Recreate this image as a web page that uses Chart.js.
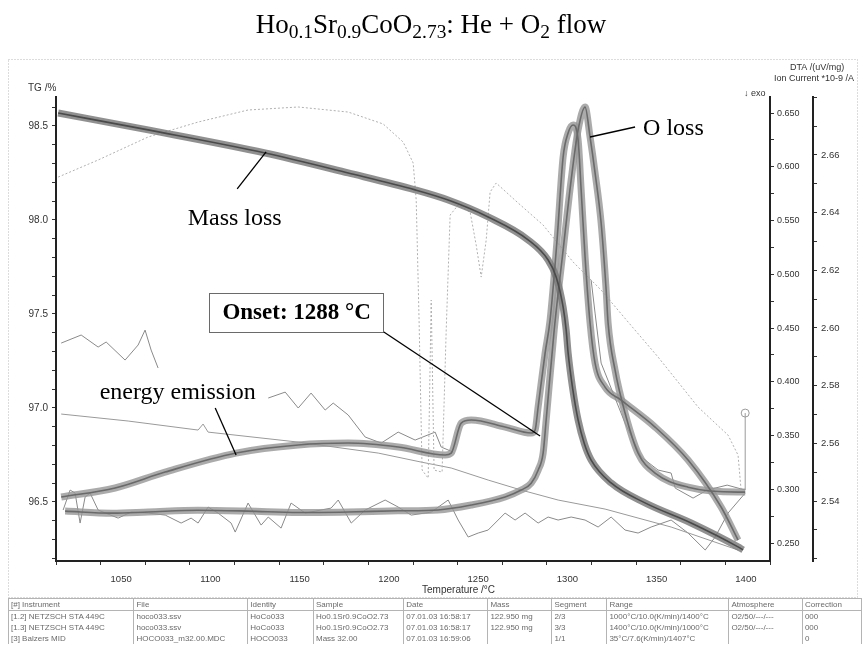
<!DOCTYPE html>
<html>
<head>
<meta charset="utf-8">
<title>TG / DTA / MS - Ho0.1Sr0.9CoO2.73</title>
<script src="https://cdn.jsdelivr.net/npm/chart.js@4.4.0/dist/chart.umd.min.js"></script>
<style>
  html, body { margin: 0; padding: 0; background: #fff; }
  #wrap { position: relative; width: 862px; height: 648px; overflow: hidden; }
  #plot { position: absolute; left: 0; top: 0; }
  #title {
    position: absolute; left: 0; top: 11px; width: 862px; text-align: center;
    font: 27px/27px "Liberation Serif", "Times New Roman", serif; color: #000;
  }
  #title sub { font-size: 0.72em; vertical-align: -0.28em; line-height: 0; }
  #runs {
    position: absolute; left: 8px; top: 598px; border-collapse: collapse; table-layout: fixed;
    font: 8px/11px "Liberation Sans", Arial, sans-serif; color: #6a6a6a;
  }
  #runs th, #runs td {
    border: 1px solid #b4b4b4; padding: 0 2px; height: 11px; white-space: nowrap;
    overflow: hidden; text-align: left; font-weight: normal;
  }
  #runs tbody td { border-top: none; border-bottom: none; }
</style>
</head>
<body>
<div id="wrap">
  <canvas id="plot" width="862" height="648"></canvas>
  <div id="title">Ho<sub>0.1</sub>Sr<sub>0.9</sub>CoO<sub>2.73</sub>: He + O<sub>2</sub> flow</div>
  <table id="runs">
    <colgroup>
      <col style="width:127px"><col style="width:115px"><col style="width:67px"><col style="width:91px">
      <col style="width:85px"><col style="width:65px"><col style="width:56px"><col style="width:123px">
      <col style="width:75px"><col style="width:60px">
    </colgroup>
    <thead>
      <tr><th>[#] Instrument</th><th>File</th><th>Identity</th><th>Sample</th><th>Date</th><th>Mass</th><th>Segment</th><th>Range</th><th>Atmosphere</th><th>Correction</th></tr>
    </thead>
    <tbody>
      <tr><td>[1.2] NETZSCH STA 449C</td><td>hoco033.ssv</td><td>HoCo033</td><td>Ho0.1Sr0.9CoO2.73</td><td>07.01.03 16:58:17</td><td>122.950 mg</td><td>2/3</td><td>1000°C/10.0(K/min)/1400°C</td><td>O2/50/---/---</td><td>000</td></tr>
      <tr><td>[1.3] NETZSCH STA 449C</td><td>hoco033.ssv</td><td>HoCo033</td><td>Ho0.1Sr0.9CoO2.73</td><td>07.01.03 16:58:17</td><td>122.950 mg</td><td>3/3</td><td>1400°C/10.0(K/min)/1000°C</td><td>O2/50/---/---</td><td>000</td></tr>
      <tr><td>[3] Balzers MID</td><td>HOCO033_m32.00.MDC</td><td>HOCO033</td><td>Mass 32.00</td><td>07.01.03 16:59:06</td><td></td><td>1/1</td><td>35°C/7.6(K/min)/1407°C</td><td></td><td>0</td></tr>
    </tbody>
  </table>
</div>

<script>
// Axis tick labels
const tempTicks = [1050, 1100, 1150, 1200, 1250, 1300, 1350, 1400];
const tgTicks = [96.5, 97.0, 97.5, 98.0, 98.5];
const dtaTicks = [0.25, 0.30, 0.35, 0.40, 0.45, 0.50, 0.55, 0.60, 0.65];
const ionTicks = [2.54, 2.56, 2.58, 2.60, 2.62, 2.64, 2.66];

// TG, heating segment (%)
const tgTemp = [1014.7, 1065.1, 1130.7, 1177.2, 1214.7, 1233.2, 1255.6, 1278.0, 1289.2, 1293.7, 1297.6,
  1299.3, 1300.4, 1303.0, 1306.0, 1309.5, 1313.3, 1324.5, 1343.5, 1369.3, 1395.6, 1398.4];
const tgMass = [98.569, 98.479, 98.356, 98.250, 98.160, 98.106, 98.016, 97.894, 97.787, 97.697, 97.537,
  97.415, 97.293, 97.100, 96.936, 96.810, 96.723, 96.601, 96.495, 96.388, 96.261, 96.245];

// DTA, heating segment (uV/mg)
const dtaTemp = [1016.4, 1046.6, 1074.6, 1114.4, 1149.2, 1177.2, 1205.2, 1231.5, 1234.9, 1240.5, 1246.1,
  1265.1, 1279.7, 1281.9, 1283.6, 1287.5, 1290.3, 1294.2, 1297.6, 1300.4, 1303.2, 1306.0, 1307.7, 1309.9,
  1312.7, 1315.5, 1321.1, 1330.1, 1349.1, 1367.6, 1386.1, 1395.6];
const dtaSignal = [0.2928, 0.3012, 0.3160, 0.3337, 0.3412, 0.3430, 0.3393, 0.3319, 0.3337, 0.3616, 0.3644,
  0.3579, 0.3523, 0.3551, 0.3765, 0.4267, 0.4574, 0.5319, 0.6091, 0.6314, 0.6388, 0.6249, 0.5784, 0.5160,
  0.4547, 0.4174, 0.3951, 0.3830, 0.3579, 0.3272, 0.2835, 0.2528];

// MID m/z 32 ion current (1e-9 A)
const msTemp = [1018.6, 1045.0, 1065.1, 1093.0, 1121.1, 1149.0, 1177.2, 1205.0, 1227.6, 1246.1, 1265.1,
  1274.1, 1279.7, 1283.6, 1286.4, 1288.1, 1292.6, 1297.6, 1302.1, 1306.0, 1309.9, 1312.7, 1315.5, 1318.9,
  1321.7, 1322.8, 1326.7, 1332.3, 1339.6, 1349.1, 1367.6, 1395.6, 1399.6];
const msCurrent = [2.5365, 2.5358, 2.5362, 2.5368, 2.5365, 2.5360, 2.5362, 2.5366, 2.5369, 2.5386, 2.5414,
  2.5438, 2.5462, 2.5507, 2.5566, 2.5681, 2.5993, 2.6270, 2.6513, 2.6687, 2.6766, 2.6662, 2.6538, 2.6364,
  2.6132, 2.6017, 2.5854, 2.5705, 2.5566, 2.5497, 2.5448, 2.5431, 2.5431];

// Thin traces (other segments), plotted on the DTA scale
const coolTemp = [1014.7, 1037.1, 1065.1, 1093.1, 1121.1, 1149.2, 1177.2, 1196.8, 1208.0, 1213.6, 1215.3,
  1216.9, 1218.6, 1222.0, 1223.7, 1225.3, 1229.8, 1232.1, 1234.3, 1238.8, 1245.5, 1248.9, 1251.7, 1254.5,
  1256.7, 1260.1, 1272.4, 1286.4, 1303.2, 1318.9, 1334.0, 1350.8, 1373.2, 1390.0, 1395.6, 1397.3];
const coolSignal = [0.5904, 0.6063, 0.6277, 0.6416, 0.6528, 0.6556, 0.6509, 0.6398, 0.6230, 0.6035, 0.5691,
  0.4574, 0.3179, 0.3104, 0.4760, 0.3179, 0.3160, 0.4481, 0.5551, 0.5644, 0.5579, 0.5272, 0.4974, 0.5318,
  0.5765, 0.5849, 0.5663, 0.5458, 0.5114, 0.4853, 0.4556, 0.4230, 0.3765, 0.3504, 0.3318, 0.2993];

const driftTemp = [1016.4, 1053.9, 1093.1, 1095.9, 1098.7, 1149.2, 1194.0, 1218.1, 1234.9, 1255.6, 1274.1,
  1294.8, 1321.1, 1358.1, 1395.6];
const driftSignal = [0.3700, 0.3635, 0.3551, 0.3607, 0.3532, 0.3439, 0.3337, 0.3253, 0.3198, 0.3086, 0.2993,
  0.2900, 0.2816, 0.2649, 0.2435];

const noiseTemp = [1017.5, 1021.4, 1024.2, 1027.0, 1029.8, 1032.6, 1037.1, 1048.3, 1055.6, 1065.1, 1074.7,
  1083.6, 1089.2, 1093.1, 1098.7, 1104.3, 1111.6, 1113.9, 1121.1, 1128.4, 1132.4, 1139.6, 1145.2, 1153.1,
  1167.6, 1171.6, 1178.9, 1186.7, 1197.9, 1205.2, 1212.5, 1223.7, 1233.2, 1238.8, 1244.4, 1250.0, 1255.6,
  1265.1, 1270.7, 1276.3, 1283.6, 1289.2, 1294.8, 1302.1, 1309.9, 1317.2, 1324.5, 1332.3, 1339.6, 1346.9,
  1358.1, 1367.6, 1377.2, 1382.8, 1390.0, 1399.6];
const noiseSignal = [0.2807, 0.2993, 0.2965, 0.2686, 0.2928, 0.2965, 0.2807, 0.2732, 0.2788, 0.2779, 0.2760,
  0.2686, 0.2732, 0.2686, 0.2835, 0.2779, 0.2686, 0.2602, 0.2872, 0.2667, 0.2742, 0.2639, 0.2872, 0.2779,
  0.2825, 0.2900, 0.2686, 0.2807, 0.2900, 0.2835, 0.2760, 0.2788, 0.2900, 0.2714, 0.2556, 0.2593, 0.2621,
  0.2779, 0.2714, 0.2779, 0.2686, 0.2742, 0.2714, 0.2742, 0.2714, 0.2649, 0.2742, 0.2621, 0.2593, 0.2649,
  0.2714, 0.2593, 0.2435, 0.2556, 0.2779, 0.2965];

// null breaks the trace where the recording drops out
const midTemp = [1016.4, 1027.6, 1037.1, 1041.6, 1052.2, 1059.5, 1063.4, 1066.8, 1070.7, 1100,
  1132.4, 1141.9, 1149.2, 1156.4, 1164.3, 1168.8, 1177.2, 1186.7, 1195.7, 1205.2, 1214.7, 1225.9, 1229.3, 1236.0, 1270,
  1313.3, 1315.5, 1318.9, 1332.3, 1341.4, 1350.8, 1358.1, 1360.4, 1370.4, 1378.3, 1389.5, 1399.6];
const midSignal = [0.4360, 0.4435, 0.4323, 0.4370, 0.4202, 0.4342, 0.4481, 0.4295, 0.4128, null,
  0.3849, 0.3904, 0.3756, 0.3895, 0.3737, 0.3802, 0.3691, 0.3486, 0.3430, 0.3532, 0.3458, 0.3532, 0.3393, 0.3346, null,
  0.4946, 0.4639, 0.4174, 0.3616, 0.3300, 0.3179, 0.3151, 0.3011, 0.2918, 0.2993, 0.3039, 0.2993];

const endTemp = [1399.6, 1399.6];
const endSignal = [0.2993, 0.3709];

const SANS = '"Liberation Sans", Arial, sans-serif';
const SERIF = '"Liberation Serif", "Times New Roman", serif';

const pts = (xs, ys) => xs.map((t, i) => ({ x: t, y: ys[i] }));
const isTick = (list, v) => list.some(t => Math.abs(t - v) < 1e-6);

// thick curves: grey halo with a darker core, like the highlighter on the printout
function thick(xs, ys, axis, halo, core) {
  const common = { data: pts(xs, ys), yAxisID: axis, pointRadius: 0, cubicInterpolationMode: 'monotone', fill: false };
  return [
    { ...common, borderColor: core, borderWidth: 1.6, order: 0 },
    { ...common, borderColor: halo, borderWidth: 7, order: 1 }
  ];
}

function thin(xs, ys, color, dash) {
  return { data: pts(xs, ys), yAxisID: 'dta', pointRadius: 0, tension: 0, borderColor: color,
           borderWidth: 1, borderDash: dash || [], spanGaps: false, order: 2 };
}

// Text labels with leader lines, anchored in data coordinates
const notes = [
  { text: 'Mass loss', axis: 'tg', at: [1113.6, 97.973], align: 'center', from: [1115.0, 98.165], to: [1131.2, 98.362] },
  { text: 'O loss', axis: 'dta', at: [1342.4, 0.6295], align: 'left', from: [1337.9, 0.637], to: [1312.7, 0.6277] },
  { text: 'energy emission', axis: 'dta', at: [1081.7, 0.3839], align: 'center', from: [1102.7, 0.3756], to: [1114.4, 0.3319] }
];
const onset = { text: 'Onset: 1288 °C', at: [1148.3, 0.4644], to: [1284.7, 0.3495] };

const printout = {
  id: 'printout',
  beforeDraw(chart) {
    const { ctx } = chart;
    ctx.save();
    ctx.strokeStyle = '#b8b8b8';
    ctx.lineWidth = 1;
    ctx.setLineDash([1, 2]);
    ctx.strokeRect(8.5, 59.5, 849, 538);
    ctx.restore();
  },
  afterDraw(chart) {
    const { ctx, chartArea: area, scales } = chart;
    const x = scales.x;
    ctx.save();

    // temperature tick labels
    ctx.fillStyle = '#333';
    ctx.textBaseline = 'middle';
    ctx.textAlign = 'center';
    ctx.font = '9.5px ' + SANS;
    tempTicks.forEach(t => ctx.fillText(String(t), x.getPixelForValue(t), area.bottom + 18));

    // axis captions
    ctx.textAlign = 'left';
    ctx.font = '10px ' + SANS;
    ctx.fillText('TG /%', area.left - 28, area.top - 9);
    ctx.font = '9px ' + SANS;
    ctx.fillText('DTA /(uV/mg)', area.right + 20, area.top - 29);
    ctx.fillText('Ion Current *10-9 /A', area.right + 4, area.top - 18);
    ctx.fillText('\u2193 exo', area.right - 26, area.top - 3);
    ctx.textAlign = 'center';
    ctx.font = '10px ' + SANS;
    ctx.fillText('Temperature /°C', x.getPixelForValue(1239), area.bottom + 29);

    // annotations
    ctx.fillStyle = '#000';
    ctx.strokeStyle = '#000';
    ctx.lineWidth = 1.3;
    ctx.textBaseline = 'alphabetic';
    ctx.font = '24px ' + SERIF;
    notes.forEach(n => {
      const ys = scales[n.axis];
      ctx.textAlign = n.align;
      ctx.fillText(n.text, x.getPixelForValue(n.at[0]), ys.getPixelForValue(n.at[1]));
      ctx.beginPath();
      ctx.moveTo(x.getPixelForValue(n.from[0]), ys.getPixelForValue(n.from[1]));
      ctx.lineTo(x.getPixelForValue(n.to[0]), ys.getPixelForValue(n.to[1]));
      ctx.stroke();
    });

    // boxed onset label
    const dta = scales.dta;
    ctx.font = 'bold 23px ' + SERIF;
    const w = ctx.measureText(onset.text).width + 26;
    const h = 39;
    const cx = x.getPixelForValue(onset.at[0]);
    const cy = dta.getPixelForValue(onset.at[1]);
    ctx.fillStyle = '#fff';
    ctx.fillRect(cx - w / 2, cy - h / 2, w, h);
    ctx.strokeStyle = '#6a6a6a';
    ctx.lineWidth = 1;
    ctx.strokeRect(Math.round(cx - w / 2) + 0.5, Math.round(cy - h / 2) + 0.5, Math.round(w), h);
    ctx.fillStyle = '#000';
    ctx.textAlign = 'center';
    ctx.textBaseline = 'middle';
    ctx.fillText(onset.text, cx, cy + 1);
    ctx.strokeStyle = '#000';
    ctx.lineWidth = 1.3;
    ctx.beginPath();
    ctx.moveTo(cx + w / 2, cy + h / 2);
    ctx.lineTo(x.getPixelForValue(onset.to[0]), dta.getPixelForValue(onset.to[1]));
    ctx.stroke();

    ctx.restore();
  }
};

function axisStyle(size) {
  return {
    border: { display: true, color: '#222', width: 2 },
    grid: { drawOnChartArea: false, drawTicks: true, tickLength: 4, color: '#333' },
    ticks: { includeBounds: false, autoSkip: false, maxTicksLimit: 100, color: '#333',
             font: { family: 'Liberation Sans', size: size } }
  };
}

const tgAxis = axisStyle(10);
const dtaAxis = axisStyle(9);
const ionAxis = axisStyle(9.5);
const tempAxis = axisStyle(9);

new Chart(document.getElementById('plot'), {
  type: 'line',
  data: {
    datasets: [
      ...thick(tgTemp, tgMass, 'tg', 'rgba(125,125,125,0.85)', '#4a4a4a'),
      ...thick(dtaTemp, dtaSignal, 'dta', 'rgba(150,150,150,0.8)', '#6a6a6a'),
      ...thick(msTemp, msCurrent, 'ion', 'rgba(150,150,150,0.8)', '#6a6a6a'),
      thin(coolTemp, coolSignal, '#b0b0b0', [2, 2]),
      thin(driftTemp, driftSignal, '#9a9a9a'),
      thin(noiseTemp, noiseSignal, '#8a8a8a'),
      thin(midTemp, midSignal, '#8a8a8a'),
      { ...thin(endTemp, endSignal, '#9a9a9a'), pointRadius: [0, 4], pointBorderColor: '#9a9a9a',
        pointBackgroundColor: 'rgba(255,255,255,0)', pointBorderWidth: 1 }
    ]
  },
  options: {
    responsive: false,
    animation: false,
    events: [],
    layout: { padding: { left: 0, top: 97, right: 9, bottom: 47 } },
    plugins: { legend: { display: false }, tooltip: { enabled: false } },
    scales: {
      x: {
        type: 'linear', min: 1013.5, max: 1413.5,
        ...tempAxis,
        // tick marks only; the labels are written by the printout plugin
        ticks: { ...tempAxis.ticks, stepSize: 25, maxRotation: 0, callback: () => '' },
        afterFit: s => { s.height = 40; }
      },
      tg: {
        type: 'linear', position: 'left', min: 96.186, max: 98.654,
        ...tgAxis,
        ticks: { ...tgAxis.ticks, stepSize: 0.1, padding: 4,
                 callback: v => isTick(tgTicks, v) ? v.toFixed(1) : '' },
        afterFit: s => { s.width = 56; }
      },
      dta: {
        type: 'linear', position: 'right', min: 0.2333, max: 0.6649,
        ...dtaAxis,
        ticks: { ...dtaAxis.ticks, stepSize: 0.025, padding: 3,
                 callback: v => isTick(dtaTicks, v) ? v.toFixed(3) : '' },
        afterFit: s => { s.width = 43; }
      },
      ion: {
        type: 'linear', position: 'right', min: 2.5192, max: 2.6801,
        ...ionAxis,
        ticks: { ...ionAxis.ticks, stepSize: 0.01, padding: 4,
                 callback: v => isTick(ionTicks, v) ? v.toFixed(2) : '' },
        afterFit: s => { s.width = 40; }
      }
    }
  },
  plugins: [printout]
});
</script>
</body>
</html>
